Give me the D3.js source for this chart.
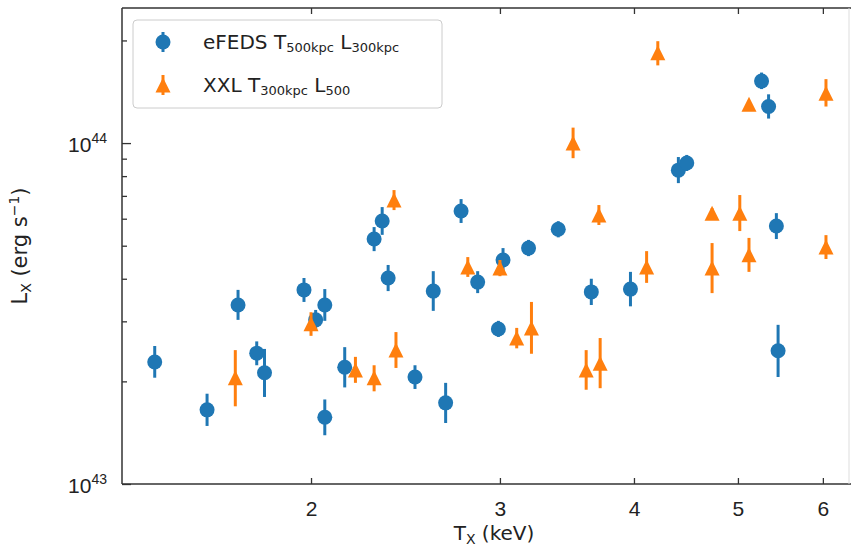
<!DOCTYPE html>
<html>
<head>
<meta charset="utf-8">
<script src="https://cdn.jsdelivr.net/npm/d3@7"></script>
<style>
body { margin: 0; background: #fff; }
svg { display: block; font-family: "DejaVu Sans", sans-serif; }
</style>
</head>
<body>
<svg width="851" height="548"></svg>
<script>

// DATA (T in keV, L in units of 1e43 erg/s, lo/hi = error bar ends)

var efeds_T  = [1.43, 1.60, 1.71, 1.78, 1.81, 1.97, 2.02, 2.06, 2.06, 2.15,
                2.29, 2.33, 2.36, 2.50, 2.60, 2.67, 2.76, 2.86, 2.99, 3.02,
                3.19, 3.40, 3.65, 3.97, 4.40, 4.48, 5.26, 5.34, 5.43, 5.45]
var efeds_L  = [2.28, 1.65, 3.35, 2.42, 2.12, 3.71, 3.03, 3.35, 1.57, 2.20,
                5.23, 5.91, 4.02, 2.06, 3.68, 1.73, 6.32, 3.91, 2.85, 4.54,
                4.92, 5.59, 3.66, 3.73, 8.33, 8.74, 15.2, 12.8, 5.71, 2.46]
var efeds_lo = [2.05, 1.48, 3.03, 2.23, 1.80, 3.42, 2.83, 3.01, 1.39, 1.92,
                4.82, 5.38, 3.68, 1.90, 3.22, 1.51, 5.83, 3.63, 2.70, 4.19,
                4.66, 5.29, 3.35, 3.32, 7.63, 8.28, 14.4, 11.8, 5.23, 2.06]
var efeds_hi = [2.54, 1.84, 3.71, 2.62, 2.49, 4.02, 3.24, 3.73, 1.77, 2.52,
                5.67, 6.49, 4.39, 2.23, 4.21, 1.98, 6.85, 4.21, 3.01, 4.92,
                5.20, 5.90, 4.00, 4.19, 9.10, 9.23, 16.1, 13.9, 6.23, 2.93]

var xxl_T  = [1.70, 2.00, 2.20, 2.29, 2.39, 2.40, 2.80, 3.00, 3.11, 3.21,
              3.51, 3.61, 3.71, 3.72, 4.11, 4.21, 4.73, 4.73, 5.02, 5.12,
              5.12, 6.04, 6.04]
var xxl_L  = [2.05, 2.95, 2.16, 2.05, 6.81, 2.47, 4.33, 4.30, 2.68, 2.87,
              10.0, 2.16, 6.15, 2.26, 4.33, 18.4, 6.23, 4.30, 6.23, 13.0,
              4.70, 14.0, 4.96]
var xxl_lo = [1.69, 2.72, 1.98, 1.87, 6.36, 2.19, 4.05, 4.07, 2.50, 2.41,
              9.03, 1.89, 5.75, 1.91, 3.89, 16.9, 6.03, 3.63, 5.52, 12.8,
              4.19, 12.8, 4.57]
var xxl_hi = [2.47, 3.19, 2.36, 2.23, 7.28, 2.79, 4.63, 4.54, 2.87, 3.42,
              11.1, 2.47, 6.58, 2.68, 4.82, 19.9, 6.44, 5.09, 7.04, 13.3,
              5.27, 15.4, 5.37]

var x_ticks = [2, 3, 4, 5, 6]
var y_major = [1, 10]
var y_major_exp = ['43', '44']
var y_minor = [2, 3, 4, 5, 6, 7, 8, 9, 20]

var series = [
	{ name: 'eFEDS', sub1: '500kpc', sub2: '300kpc', color: '#1f77b4', marker: 'o',
	  T: efeds_T, L: efeds_L, lo: efeds_lo, hi: efeds_hi },
	{ name: 'XXL', sub1: '300kpc', sub2: '500', color: '#ff7f0e', marker: '^',
	  T: xxl_T, L: xxl_L, lo: xxl_lo, hi: xxl_hi }
]

// LAYOUT

var ax_l = 122, ax_r = 849, ax_t = 8, ax_b = 484
var ms = 15

var svg = d3.select('svg')

var x = d3.scaleLog().domain([1.333, 6.346]).range([ax_l, ax_r])
var y = d3.scaleLog().domain([1, 24.9]).range([ax_b, ax_t])

// AXES

var ax_bottom = svg.append('g')
	.attr('transform', 'translate(0,' + ax_b + ')')
	.call(d3.axisBottom(x).tickValues(x_ticks).tickSize(-6).tickSizeOuter(0).tickFormat(d3.format('d')))

var ax_top = svg.append('g')
	.attr('transform', 'translate(0,' + ax_t + ')')
	.call(d3.axisTop(x).tickValues(x_ticks).tickSize(-6).tickSizeOuter(0).tickFormat(''))

var ax_left = svg.append('g')
	.attr('transform', 'translate(' + ax_l + ',0)')
	.call(d3.axisLeft(y).tickValues(y_major).tickSize(-9).tickSizeOuter(0).tickFormat(''))

var ax_left_minor = svg.append('g')
	.attr('transform', 'translate(' + ax_l + ',0)')
	.call(d3.axisLeft(y).tickValues(y_minor).tickSize(-5).tickSizeOuter(0).tickFormat(''))

svg.selectAll('.domain').remove()
svg.selectAll('.tick line').attr('stroke', '#333').attr('stroke-width', 1.3)

ax_bottom.selectAll('.tick text')
	.attr('y', 32).attr('dy', null)
	.attr('fill', '#222')
	.style('font-size', '21px')

// y tick labels 10^43, 10^44
ax_left.selectAll('.tick').each(function(d, i) {
	var t = d3.select(this).append('text')
		.attr('x', -15).attr('y', 8)
		.attr('text-anchor', 'end')
		.attr('fill', '#222')
		.style('font-size', '21px')
	t.append('tspan').text('10')
	t.append('tspan').attr('dy', -9).style('font-size', '14px').text(y_major_exp[i])
})

// frame
var frame = svg.append('g')
frame.append('line').attr('x1', ax_l).attr('x2', ax_l).attr('y1', ax_t).attr('y2', ax_b)
	.attr('stroke', '#333').attr('stroke-width', 1.5)
frame.append('line').attr('x1', ax_l).attr('x2', 851).attr('y1', ax_b).attr('y2', ax_b)
	.attr('stroke', '#333').attr('stroke-width', 1.5)
frame.append('line').attr('x1', ax_l).attr('x2', 851).attr('y1', ax_t).attr('y2', ax_t)
	.attr('stroke', '#333').attr('stroke-width', 1.5)
frame.append('line').attr('x1', ax_r).attr('x2', ax_r).attr('y1', ax_t).attr('y2', ax_b)
	.attr('stroke', '#ddd').attr('stroke-width', 1)

// axis titles
var xlab = svg.append('text')
	.attr('x', 494).attr('y', 540)
	.attr('text-anchor', 'middle')
	.attr('fill', '#222')
	.style('font-size', '20px')
xlab.append('tspan').text('T')
xlab.append('tspan').attr('dy', 4).style('font-size', '14px').text('X')
xlab.append('tspan').attr('dy', -4).text(' (keV)')

var ylab = svg.append('text')
	.attr('transform', 'translate(27,246) rotate(-90)')
	.attr('text-anchor', 'middle')
	.attr('fill', '#222')
	.style('font-size', '21px')
ylab.append('tspan').text('L')
ylab.append('tspan').attr('dy', 4).style('font-size', '14px').text('X')
ylab.append('tspan').attr('dy', -4).text(' (erg s')
ylab.append('tspan').attr('dy', -8).style('font-size', '14px').text('\u22121')
ylab.append('tspan').attr('dy', 8).text(')')

// MARKS

function marker_path(type) {
	if (type == '^') {
		return 'M0,' + (-ms / 2) + 'L' + (ms / 2) + ',' + (ms / 2) + 'L' + (-ms / 2) + ',' + (ms / 2) + 'Z'
	}
	return d3.symbol().type(d3.symbolCircle).size(Math.PI * ms * ms / 4)()
}

var plot = svg.append('g')

series.forEach(function(s) {

	var pts = s.T.map(function(t, i) {
		return { T: t, L: s.L[i], lo: s.lo[i], hi: s.hi[i] }
	})

	var g = plot.append('g').attr('class', 'series-' + s.name)

	g.selectAll('.err').data(pts).enter()
		.append('line')
		.attr('class', 'err')
		.attr('x1', function(d) { return x(d.T) })
		.attr('x2', function(d) { return x(d.T) })
		.attr('y1', function(d) { return y(d.lo) })
		.attr('y2', function(d) { return y(d.hi) })
		.attr('stroke', s.color)
		.attr('stroke-width', 3)

	g.selectAll('.pt').data(pts).enter()
		.append('path')
		.attr('class', 'pt')
		.attr('d', marker_path(s.marker))
		.attr('transform', function(d) { return 'translate(' + x(d.T) + ',' + y(d.L) + ')' })
		.attr('fill', s.color)
})

// LEGEND

var legend = svg.append('g')

legend.append('rect')
	.attr('x', 133).attr('y', 20)
	.attr('width', 309).attr('height', 88)
	.attr('rx', 4)
	.attr('fill', 'white').attr('fill-opacity', 0.8)
	.attr('stroke', '#ccc')

series.forEach(function(s, i) {
	var cy = 42 + i * 43
	var row = legend.append('g').attr('transform', 'translate(163,' + cy + ')')
	row.append('line')
		.attr('y1', -10).attr('y2', 10)
		.attr('stroke', s.color).attr('stroke-width', 3)
	row.append('path').attr('d', marker_path(s.marker)).attr('fill', s.color)

	var t = row.append('text')
		.attr('x', 40).attr('y', 7)
		.attr('fill', '#222')
		.style('font-size', '20px')
	t.append('tspan').text(s.name + ' T')
	t.append('tspan').attr('dy', 3).style('font-size', '13px').text(s.sub1)
	t.append('tspan').attr('dy', -3).text(' L')
	t.append('tspan').attr('dy', 3).style('font-size', '13px').text(s.sub2)
})

</script>
</body>
</html>
